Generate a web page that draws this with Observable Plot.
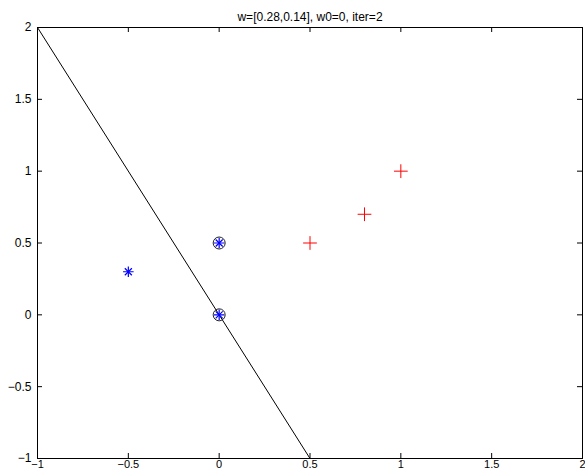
<!DOCTYPE html>
<html>
<head>
<meta charset="utf-8">
<script src="https://cdn.jsdelivr.net/npm/d3@7"></script>
<script src="https://cdn.jsdelivr.net/npm/@observablehq/plot@0.6"></script>
<style>
  html, body { margin: 0; padding: 0; background: #fff; }
  #chart svg { display: block; }
</style>
</head>
<body>
<div id="chart"></div>
<script>
const titleText = "w=[0.28,0.14], w0=0, iter=2";
const xTicks = [-1, -0.5, 0, 0.5, 1, 1.5, 2];
const yTicks = [-1, -0.5, 0, 0.5, 1, 1.5, 2];
const blueX = [-0.5, 0, 0];
const blueY = [0.3, 0.5, 0];
const redX = [0.5, 0.8, 1];
const redY = [0.5, 0.7, 1];
const circledX = [0, 0];
const circledY = [0.5, 0];
const boundaryX = [-1, 0.5];
const boundaryY = [2, -1];

const W = 585, H = 474;
const mL = 37, mR = 3, mT = 27, mB = 16;
const innerW = W - mL - mR, innerH = H - mT - mB;
const tk = 5;

const blue = blueX.map((x, i) => ({x, y: blueY[i]}));
const red = redX.map((x, i) => ({x, y: redY[i]}));
const circled = circledX.map((x, i) => ({x, y: circledY[i]}));
const boundary = boundaryX.map((x, i) => ({x, y: boundaryY[i]}));

const fmt = d => d3.format("")(d).replace("-", "\u2212");

const chart = Plot.plot({
  width: W, height: H,
  marginLeft: mL, marginRight: mR, marginTop: mT, marginBottom: mB,
  style: {fontFamily: "'Liberation Sans', Arial, Helvetica, sans-serif", fontSize: "12px", background: "#fff", color: "#000"},
  x: {domain: [-1, 2]},
  y: {domain: [-1, 2]},
  marks: [
    Plot.axisX({anchor: "bottom", ticks: xTicks, tickSize: 0, tickPadding: 2, tickFormat: fmt, label: null, fontSize: 11}),
    Plot.axisY({anchor: "left", ticks: yTicks, tickSize: 0, tickPadding: 6, tickFormat: fmt, label: null, fontSize: 12}),
    Plot.tickX(xTicks, {x: d => d, insetTop: innerH - tk, stroke: "#000"}),
    Plot.tickX(xTicks, {x: d => d, insetBottom: innerH - tk, stroke: "#000"}),
    Plot.tickY(yTicks, {y: d => d, insetRight: innerW - tk, stroke: "#000"}),
    Plot.tickY(yTicks, {y: d => d, insetLeft: innerW - tk, stroke: "#000"}),
    Plot.line(boundary, {x: "x", y: "y", stroke: "#000", strokeWidth: 1}),
    Plot.dot(blue, {x: "x", y: "y", symbol: "plus", r: 3.5, stroke: "#0000ff", strokeWidth: 1.2}),
    Plot.dot(blue, {x: "x", y: "y", symbol: "times", r: 3.3, stroke: "#0000ff", strokeWidth: 1.2}),
    Plot.dot(circled, {x: "x", y: "y", symbol: "circle", r: 6, stroke: "#222", strokeWidth: 1, fill: "none"}),
    Plot.dot(red, {x: "x", y: "y", symbol: "plus", r: 4.5, stroke: "#ff0000", strokeWidth: 1}),
    Plot.frame({stroke: "#000", strokeWidth: 1}),
    Plot.text([titleText], {frameAnchor: "top", dy: -15, fontSize: 12, fill: "#000"})
  ]
});
document.getElementById("chart").appendChild(chart);
</script>
</body>
</html>
